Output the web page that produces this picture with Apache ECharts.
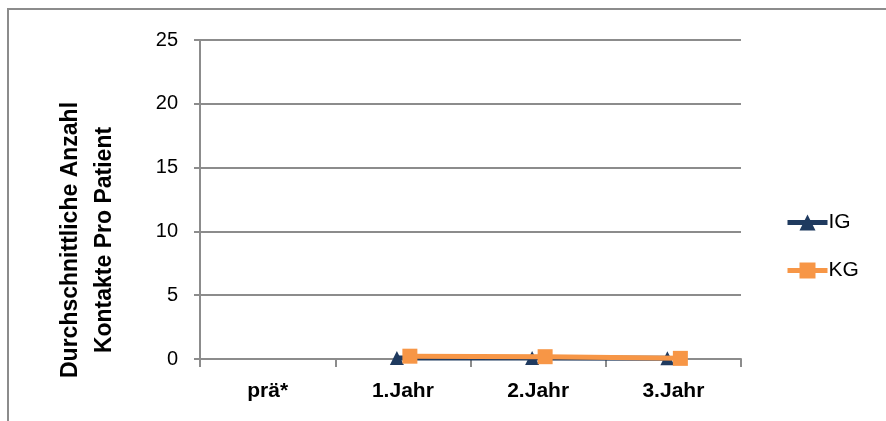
<!DOCTYPE html>
<html>
<head>
<meta charset="utf-8">
<script src="https://cdn.jsdelivr.net/npm/echarts@6/dist/echarts.min.js"></script>
<style>html,body{margin:0;padding:0;background:#fff}#c{width:886px;height:421px}</style>
</head>
<body>
<div id="c"></div>
<script>
var categories = ['prä*', '1.Jahr', '2.Jahr', '3.Jahr'];
var igValues = [null, 0.08, 0.07, 0.05];
var kgValues = [null, 0.22, 0.18, 0.05];
var yTicks = [0, 5, 10, 15, 20, 25];
var yName = 'Durchschnittliche Anzahl\nKontakte Pro Patient';

(function () {
var chart = echarts.init(document.getElementById('c'));
var gTop = 40, gBottom = 62;
function hiddenY(i) {
  return {type: 'value', gridIndex: i, min: yTicks[0], max: yTicks[yTicks.length - 1], interval: 5, show: false};
}
function hiddenX(i) {
  return {type: 'category', gridIndex: i, data: categories, show: false};
}
chart.setOption({
  animation: false,
  backgroundColor: '#fff',
  textStyle: {fontFamily: 'Liberation Sans'},
  graphic: [{
    type: 'rect', shape: {x: 8, y: 9, width: 900, height: 450},
    style: {fill: 'none', stroke: '#8c8c8c', lineWidth: 2}, silent: true, z: -10
  }, {
    type: 'text', x: 88, y: 240, rotation: Math.PI / 2,
    style: {text: yName, font: 'bold 23px "Liberation Sans"', fill: '#000',
      textAlign: 'center', textVerticalAlign: 'middle', lineHeight: 34}
  }],
  grid: [
    {left: 200, right: 145, top: gTop, bottom: gBottom},
    {left: 194, right: 151, top: gTop, bottom: gBottom},
    {left: 207, right: 138, top: gTop, bottom: gBottom}
  ],
  legend: {
    orient: 'vertical', left: 780, top: 207, itemWidth: 40, itemHeight: 20, itemGap: 27,
    lineStyle: {width: 5},
    textStyle: {fontSize: 21, color: '#000', fontFamily: 'Liberation Sans', padding: [0, 0, 0, -4]},
    data: ['IG', 'KG']
  },
  xAxis: [{
    type: 'category', gridIndex: 0, data: categories, boundaryGap: true,
    axisLine: {lineStyle: {color: '#8c8c8c', width: 2}},
    axisTick: {show: true, length: 8, alignWithLabel: false, lineStyle: {color: '#8c8c8c', width: 2}},
    axisLabel: {fontSize: 21, fontWeight: 'bold', color: '#000', margin: 22}
  }, hiddenX(1), hiddenX(2)],
  yAxis: [{
    type: 'value', gridIndex: 0, min: 0, max: 25, interval: 5,
    axisLine: {show: true, lineStyle: {color: '#8c8c8c', width: 2}},
    axisTick: {show: true, length: 6, lineStyle: {color: '#8c8c8c', width: 2}},
    axisLabel: {fontSize: 20, color: '#000', margin: 22},
    splitLine: {lineStyle: {color: '#8c8c8c', width: 2}}
  }, hiddenY(1), hiddenY(2)],
  series: [{
    name: 'IG', type: 'line', xAxisIndex: 1, yAxisIndex: 1, data: igValues,
    symbol: 'triangle', symbolSize: 14, showAllSymbol: true,
    lineStyle: {color: '#1f3a5f', width: 5},
    itemStyle: {color: '#1f3a5f'}, z: 2
  }, {
    name: 'KG', type: 'line', xAxisIndex: 2, yAxisIndex: 2, data: kgValues,
    symbol: 'rect', symbolSize: 15, showAllSymbol: true,
    lineStyle: {color: '#f79646', width: 5},
    itemStyle: {color: '#f79646'}, z: 3
  }]
});
})();
</script>
</body>
</html>
